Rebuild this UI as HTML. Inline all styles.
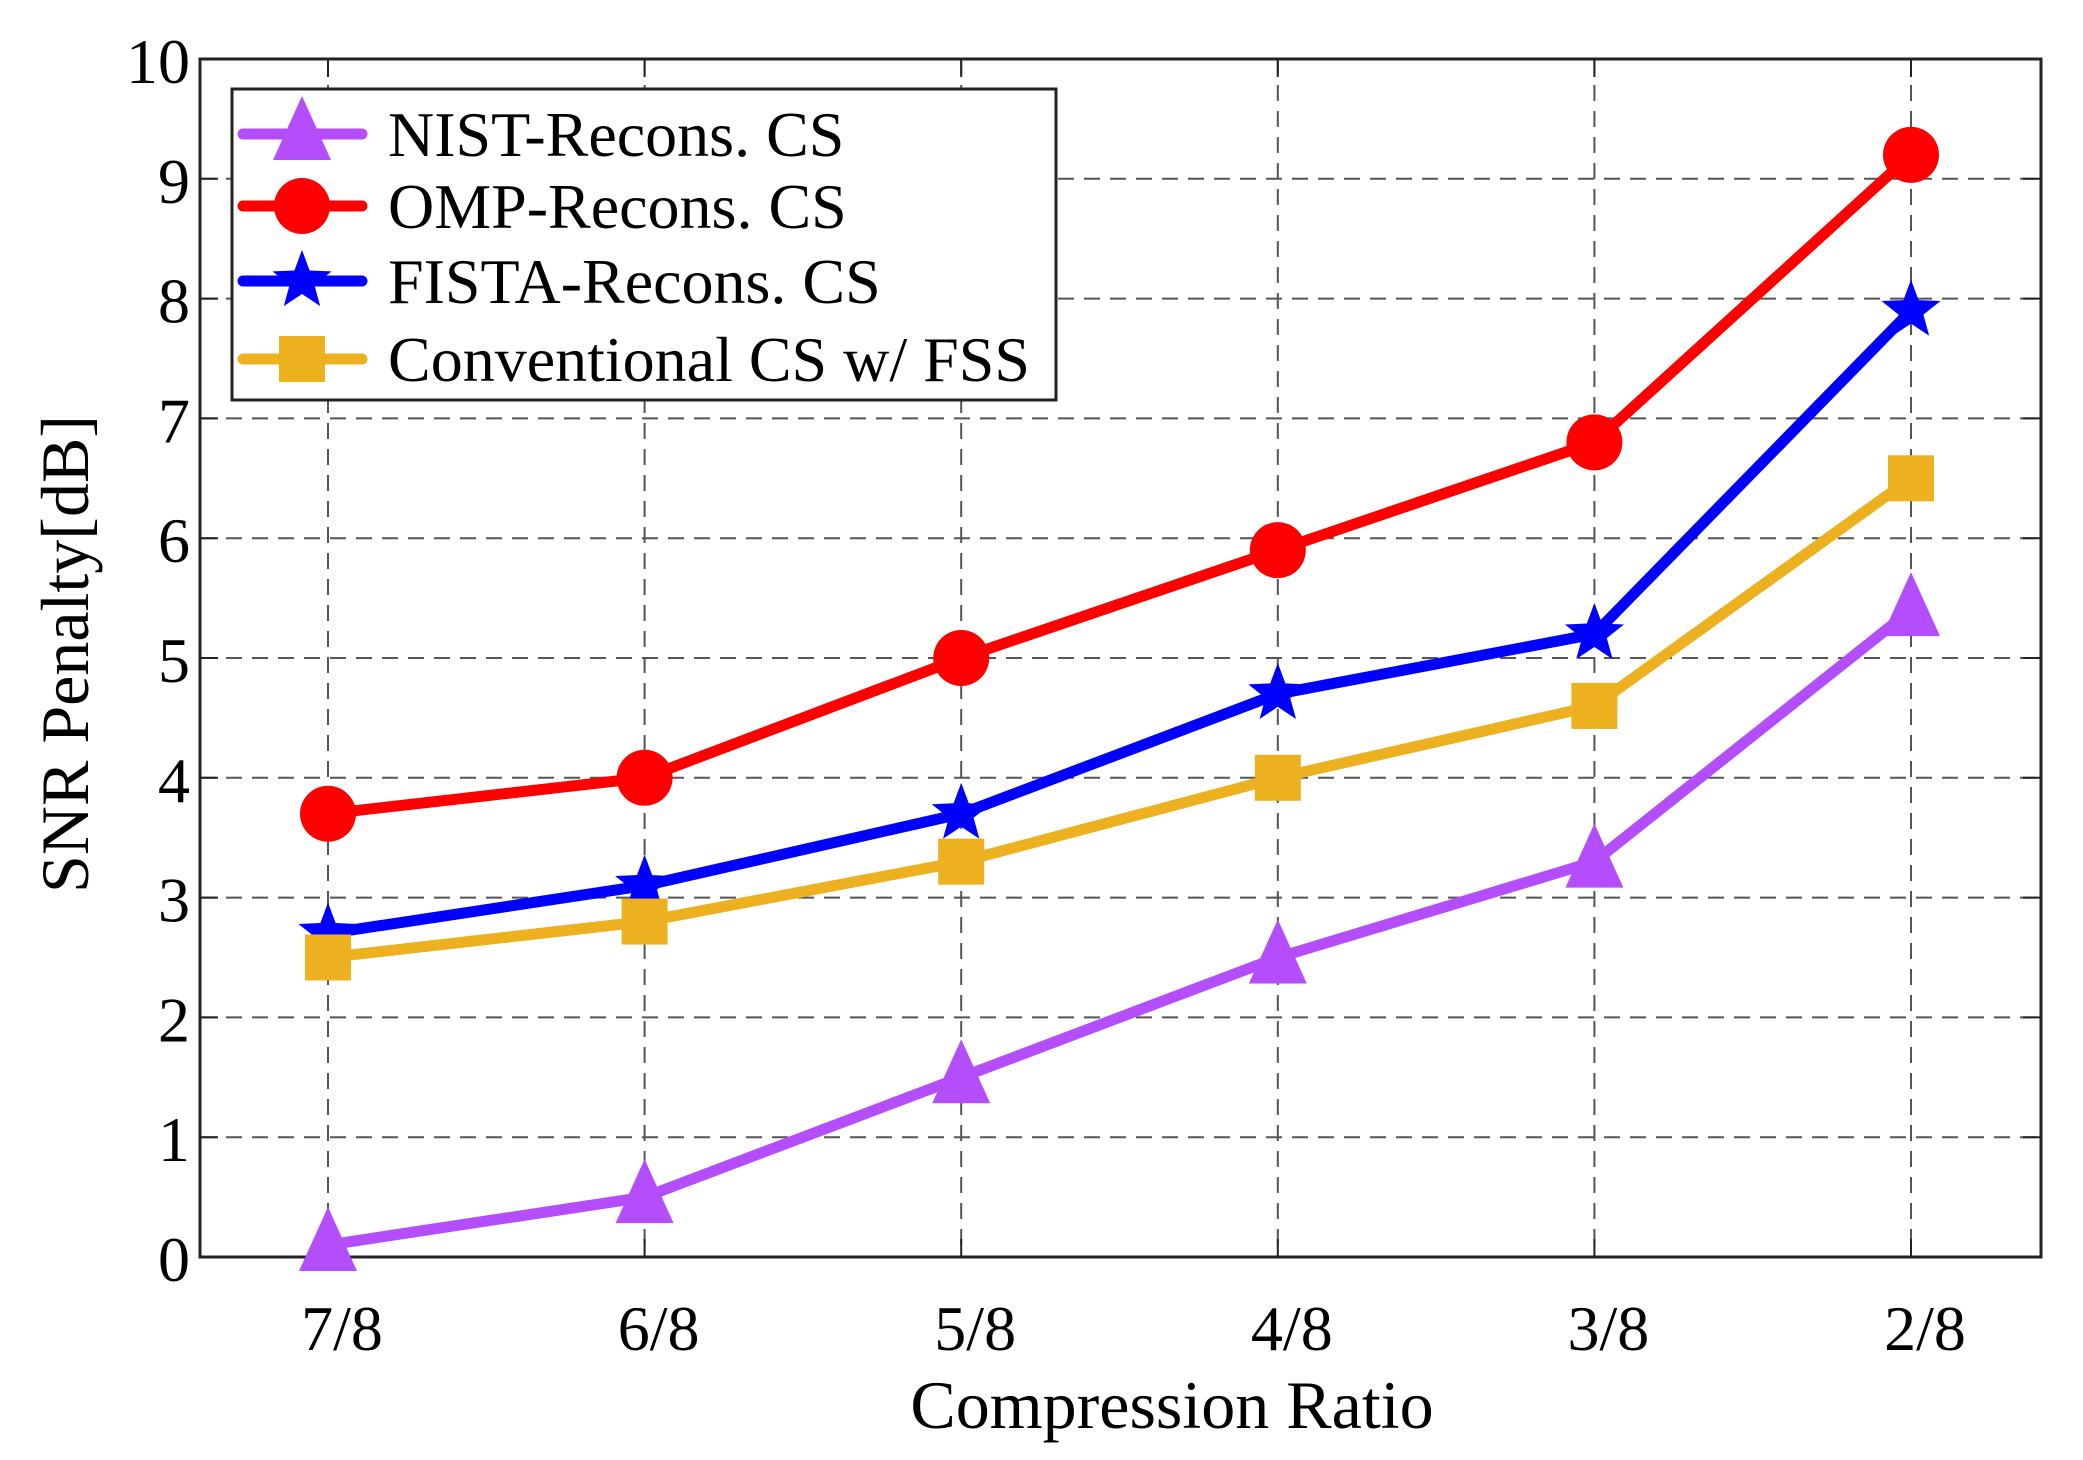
<!DOCTYPE html>
<html><head><meta charset="utf-8"><style>
html,body{margin:0;padding:0;background:#fff;}
svg{display:block;font-family:"Liberation Serif",serif;}
</style></head><body>
<svg id="chart" width="2083" height="1460" viewBox="0 0 2083 1460">
<g id="grid"></g>
<g id="axes"></g>
<g id="series"></g>
<g id="legend"></g>
<text x="1172" y="1428" font-size="68" text-anchor="middle">Compression Ratio</text>
<text transform="translate(88,654) rotate(-90)" font-size="68" text-anchor="middle">SNR Penalty[dB]</text>
</svg>
<script>
const categories = ["7/8","6/8","5/8","4/8","3/8","2/8"];
const yTicks = [0,1,2,3,4,5,6,7,8,9,10];
const nistValues = [0.1,0.5,1.5,2.5,3.3,5.4];
const ompValues = [3.7,4.0,5.0,5.9,6.8,9.2];
const fistaValues = [2.7,3.1,3.7,4.7,5.2,7.9];
const convValues = [2.5,2.8,3.3,4.0,4.6,6.5];
const seriesNames = ["NIST-Recons. CS","OMP-Recons. CS","FISTA-Recons. CS","Conventional CS w/ FSS"];

const NS="http://www.w3.org/2000/svg";
const L=200,R=2041,T=59,B=1257;
const x=i=>328+i*316.6;
const y=v=>B-(v/10)*(B-T);
function mk(tag,attrs,parent){const e=document.createElementNS(NS,tag);for(const k in attrs)e.setAttribute(k,attrs[k]);parent.appendChild(e);return e;}
const grid=document.getElementById('grid'),axes=document.getElementById('axes'),series=document.getElementById('series'),legend=document.getElementById('legend');

categories.forEach((c,i)=>{
  const g=mk('line',{x1:x(i),x2:x(i),y1:T,y2:B,stroke:'#555','stroke-width':2,'stroke-dasharray':'16 10'},grid);
  
  
  const t1=mk('line',{x1:x(i),x2:x(i),y1:B,y2:B-18,stroke:'#222','stroke-width':2},axes);
  
  
  const t2=mk('line',{x1:x(i),x2:x(i),y1:T,y2:T+18,stroke:'#222','stroke-width':2},axes);
  
  
  const lb=mk('text',{x:x(i)+14,y:1350,'font-size':64,'text-anchor':'middle'},axes);
  lb.textContent=c;
  
  
});
yTicks.forEach(v=>{
  if(v>0&&v<10){
    const g=mk('line',{x1:L,x2:R,y1:y(v),y2:y(v),stroke:'#555','stroke-width':2,'stroke-dasharray':'16 10'},grid);
    
    
  }
  const t1=mk('line',{x1:L,x2:L+18,y1:y(v),y2:y(v),stroke:'#222','stroke-width':2},axes);
  
  
  const t2=mk('line',{x1:R,x2:R-18,y1:y(v),y2:y(v),stroke:'#222','stroke-width':2},axes);
  
  
  const lb=mk('text',{x:190,y:y(v)+24,'font-size':64,'text-anchor':'end'},axes);
  lb.textContent=v;
  
  
});
const frame=mk('rect',{x:L,y:T,width:R-L,height:B-T,fill:'none',stroke:'#222','stroke-width':3},axes);



function marker(type,cx,cy,color,parent){
  let e;
  if(type==='tri'){
    e=mk('polygon',{points:`${cx},${cy-38} ${cx-29},${cy+26} ${cx+29},${cy+26}`,fill:color},parent);
  }else if(type==='circ'){
    e=mk('circle',{cx:cx,cy:cy,r:28,fill:color},parent);
  }else if(type==='star'){
    let p=[];for(let k=0;k<10;k++){const r=k%2?13:31;const a=-Math.PI/2+k*Math.PI/5;p.push((cx+r*Math.cos(a)).toFixed(1)+','+(cy+r*Math.sin(a)).toFixed(1));}
    e=mk('polygon',{points:p.join(' '),fill:color},parent);
  }else{
    e=mk('rect',{x:cx-23,y:cy-23,width:46,height:46,fill:color},parent);
  }
  return e;
}
const defs=[[nistValues,'#B44DFB','tri','nist'],[ompValues,'#FF0000','circ','omp'],[fistaValues,'#0000FF','star','fista'],[convValues,'#EDB120','sq','conv']];
defs.forEach(([vals,color,type,key])=>{
  const g=mk('g',{},series);
  
  
  const pl=mk('polyline',{points:vals.map((v,i)=>x(i)+','+y(v)).join(' '),fill:'none',stroke:color,'stroke-width':11,'stroke-linejoin':'round'},g);
  
  
  vals.forEach((v,i)=>{
    const m=marker(type,x(i),y(v),color,g);
    
    
  });
});
const box=mk('rect',{x:232,y:89,width:824,height:311,fill:'#fff',stroke:'#222','stroke-width':3},legend);


const ly=[134,206,281,359];
defs.forEach(([vals,color,type,key],k)=>{
  const g=mk('g',{},legend);
  
  
  mk('line',{x1:243,x2:362,y1:ly[k],y2:ly[k],stroke:color,'stroke-width':11,'stroke-linecap':'round'},g);
  marker(type,302,ly[k],color,g);
  const t=mk('text',{x:388,y:ly[k]+22,'font-size':64},g);
  t.textContent=seriesNames[k];
});
</script>
</body></html>
